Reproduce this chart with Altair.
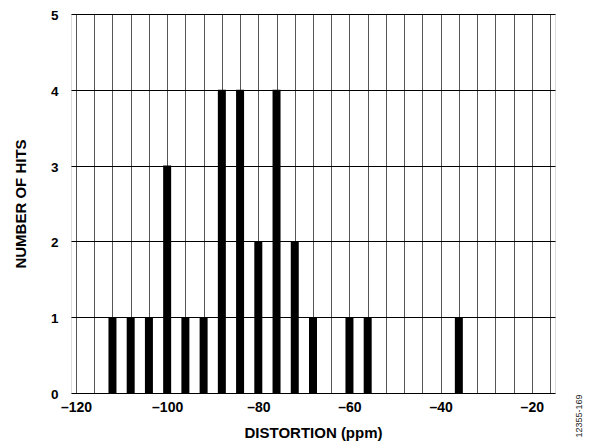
import altair as alt
import pandas as pd

distortion_ppm = [-112, -108, -104, -100, -96, -92, -88, -84, -80, -76, -72, -68, -60, -56, -36]
number_of_hits = [1, 1, 1, 3, 1, 1, 4, 4, 2, 4, 2, 1, 1, 1, 1]
x_grid_values = list(range(-120, -15, 4))
y_tick_values = [0, 1, 2, 3, 4, 5]

df = pd.DataFrame({"distortion": distortion_ppm, "hits": number_of_hits})

FONT = "Liberation Sans"

x_enc = alt.X(
    "distortion:Q",
    scale=alt.Scale(domain=[-120, -16], nice=False, zero=False),
    axis=alt.Axis(
        values=x_grid_values,
        labelExpr="datum.value % 20 === 0 ? (datum.value < 0 ? '–' + abs(datum.value) : '' + datum.value) : ''",
        title="DISTORTION (ppm)",
        grid=True, gridColor="#555555", gridWidth=1, gridOpacity=1,
        ticks=False, domain=False,
        labelFont=FONT, labelFontSize=14, labelFontWeight="bold", labelColor="#000000",
        labelPadding=7, labelFlush=False, labelOverlap=False,
        titleFont=FONT, titleFontSize=15, titleFontWeight="bold", titleColor="#000000",
        titleX=242, titleY=39, titleAlign="center", titleBaseline="middle",
    ),
)
y_enc = alt.Y(
    "hits:Q",
    scale=alt.Scale(domain=[0, 5], nice=False),
    axis=alt.Axis(
        values=y_tick_values,
        title="NUMBER OF HITS",
        grid=True, gridColor="#000000", gridWidth=1, gridOpacity=1,
        ticks=False, domain=False,
        labelFont=FONT, labelFontSize=13.5, labelFontWeight="bold", labelColor="#000000",
        labelPadding=13, labelFlush=False, labelOffset=1.5,
        titleFont=FONT, titleFontSize=15, titleFontWeight="bold", titleColor="#000000",
        titleX=-51, titleY=189.5, titleAngle=270, titleAlign="center", titleBaseline="middle",
    ),
)

bars = alt.Chart(df).mark_bar(size=8, color="#000000").encode(x=x_enc, y=y_enc)

watermark = alt.Chart(pd.DataFrame({"t": ["12355-169"]})).mark_text(
    angle=270, font=FONT, fontSize=9, color="#222222",
    align="center", baseline="middle",
).encode(text="t:N", x=alt.value(508), y=alt.value(402))

chart = alt.layer(bars, watermark).properties(
    width=484, height=379,
    padding={"left": 63, "top": 6, "right": 30, "bottom": 50},
    autosize=alt.AutoSizeParams(type="none"),
).configure_view(stroke="#000000", strokeWidth=2).configure(background="white")

chart.save("out.html", embed_options={"renderer": "svg", "actions": False})
